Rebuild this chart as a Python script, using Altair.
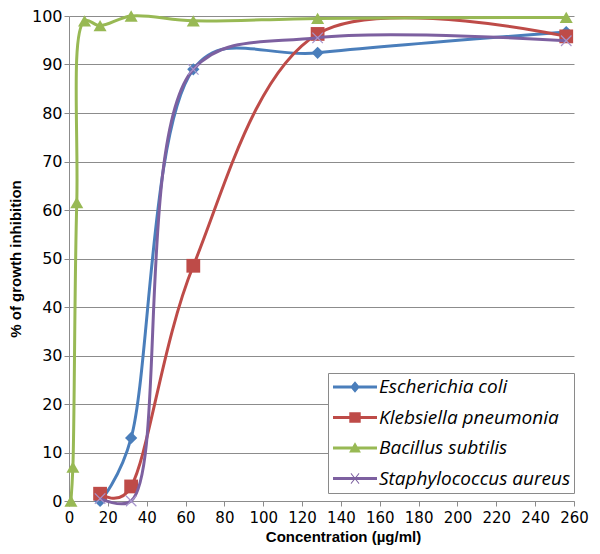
import altair as alt
import pandas as pd

series_names = ["Escherichia coli", "Klebsiella pneumonia", "Bacillus subtilis", "Staphylococcus aureus"]
series_colors = ["#4a7ebb", "#be4b48", "#98b954", "#7d60a0"]

conc_main = [16, 32, 64, 128, 256]
conc_bacillus = [1, 2, 4, 8, 16, 32, 64, 128, 256]

ecoli = [0, 13, 89, 92.4, 96.7]
klebsiella = [1.5, 3, 48.5, 96.3, 95.8]
bacillus = [0, 7, 61.5, 99, 98, 100, 99, 99.5, 99.7]
staph = [0.5, 0, 89, 95.5, 94.9]

x_ticks = list(range(0, 261, 20))
y_ticks = list(range(0, 101, 10))

series_x = [conc_main, conc_main, conc_bacillus, conc_main]
series_y = [ecoli, klebsiella, bacillus, staph]

rows = []
for name, xs, ys in zip(series_names, series_x, series_y):
    for xv, yv in zip(xs, ys):
        rows.append({"series": name, "conc": xv, "inhib": yv})
df = pd.DataFrame(rows)

GRID = "#8c8c8c"
TICK_FONT = "DejaVu Sans"
TITLE_FONT = "Liberation Sans"

X = alt.X("conc:Q",
          scale=alt.Scale(domain=[0, 260], nice=False, zero=False),
          axis=alt.Axis(values=x_ticks, title="Concentration (µg/ml)", grid=False,
                        domainColor=GRID, tickColor=GRID, tickSize=5,
                        labelFont=TICK_FONT, labelFontSize=15, labelColor="black",
                        labelPadding=4, labelFlush=False,
                        titleFont=TITLE_FONT, titleFontSize=15, titleFontWeight="bold",
                        titleColor="black", titlePadding=4, titleX=274, titleAlign="center"))
Y = alt.Y("inhib:Q",
          scale=alt.Scale(domain=[0, 100], nice=False),
          axis=alt.Axis(values=y_ticks, title="% of growth inhibition", grid=True,
                        gridColor=GRID, domainColor=GRID, tickColor=GRID, tickSize=5,
                        labelFont=TICK_FONT, labelFontSize=16, labelColor="black",
                        labelPadding=2,
                        titleFont=TITLE_FONT, titleFontSize=15, titleFontWeight="bold",
                        titleColor="black", titlePadding=8))

marker_shapes = ["diamond", "square", "triangle-up", "M-1,-1L1,1M1,-1L-1,1"]
marker_sizes = [150, 190, 170, 110]
curve_alpha = [0.3, 0.2, 0.5, 0.5]

# legend symbols: a thick line with the marker on it (unit square paths)
bar = "M-1,-0.068H1V0.068H-1Z"
legend_paths = [
    bar + "M0,-0.26L0.22,0L0,0.26L-0.22,0Z",
    bar + "M-0.26,-0.24H0.26V0.24H-0.26Z",
    bar + "M0,-0.26L0.27,0.2L-0.27,0.2Z",
    bar + "M-0.2,-0.22L-0.17,-0.25L0.2,0.22L0.17,0.25ZM0.17,-0.25L0.2,-0.22L-0.17,0.25L-0.2,0.22Z",
]

layers = []
for name, color, shape, size, a in zip(series_names, series_colors, marker_shapes, marker_sizes, curve_alpha):
    base = alt.Chart(df).transform_filter(alt.datum.series == name)
    line = base.mark_line(interpolate="catmull-rom", tension=a, color=color, strokeWidth=3).encode(x=X, y=Y)
    if name == "Staphylococcus aureus":
        pts = base.mark_point(shape=shape, size=size, filled=False, color="#a795cc",
                              strokeWidth=1.2, opacity=1).encode(x=X, y=Y)
    else:
        pts = base.mark_point(shape=shape, size=size, filled=True, color=color,
                              opacity=1).encode(x=X, y=Y)
    layers += [line, pts]

legend = alt.Legend(orient="none", legendX=259, legendY=357, title=None,
                    strokeColor="#8a8a8a", fillColor="white", padding=3,
                    symbolSize=1936, symbolStrokeWidth=0, symbolOpacity=1, symbolOffset=2,
                    clipHeight=22,
                    labelFont="Open Sans", labelFontStyle="italic", labelFontSize=19,
                    labelColor="black", labelOffset=2, labelLimit=400, rowPadding=8.5)

legend_layer = alt.Chart(df).mark_point(filled=True, opacity=0).encode(
    x=X, y=Y,
    color=alt.Color("series:N", scale=alt.Scale(domain=series_names, range=series_colors), legend=legend),
    shape=alt.Shape("series:N", scale=alt.Scale(domain=series_names, range=legend_paths), legend=legend),
)

chart = alt.layer(*layers, legend_layer).properties(
    width=505, height=485,
    autosize=alt.AutoSizeParams(type="none"),
    padding={"left": 61, "top": 8, "right": 18, "bottom": 45},
    background="white",
).configure_view(stroke=None)

chart.save("out.html", embed_options={"renderer": "svg", "actions": False})
